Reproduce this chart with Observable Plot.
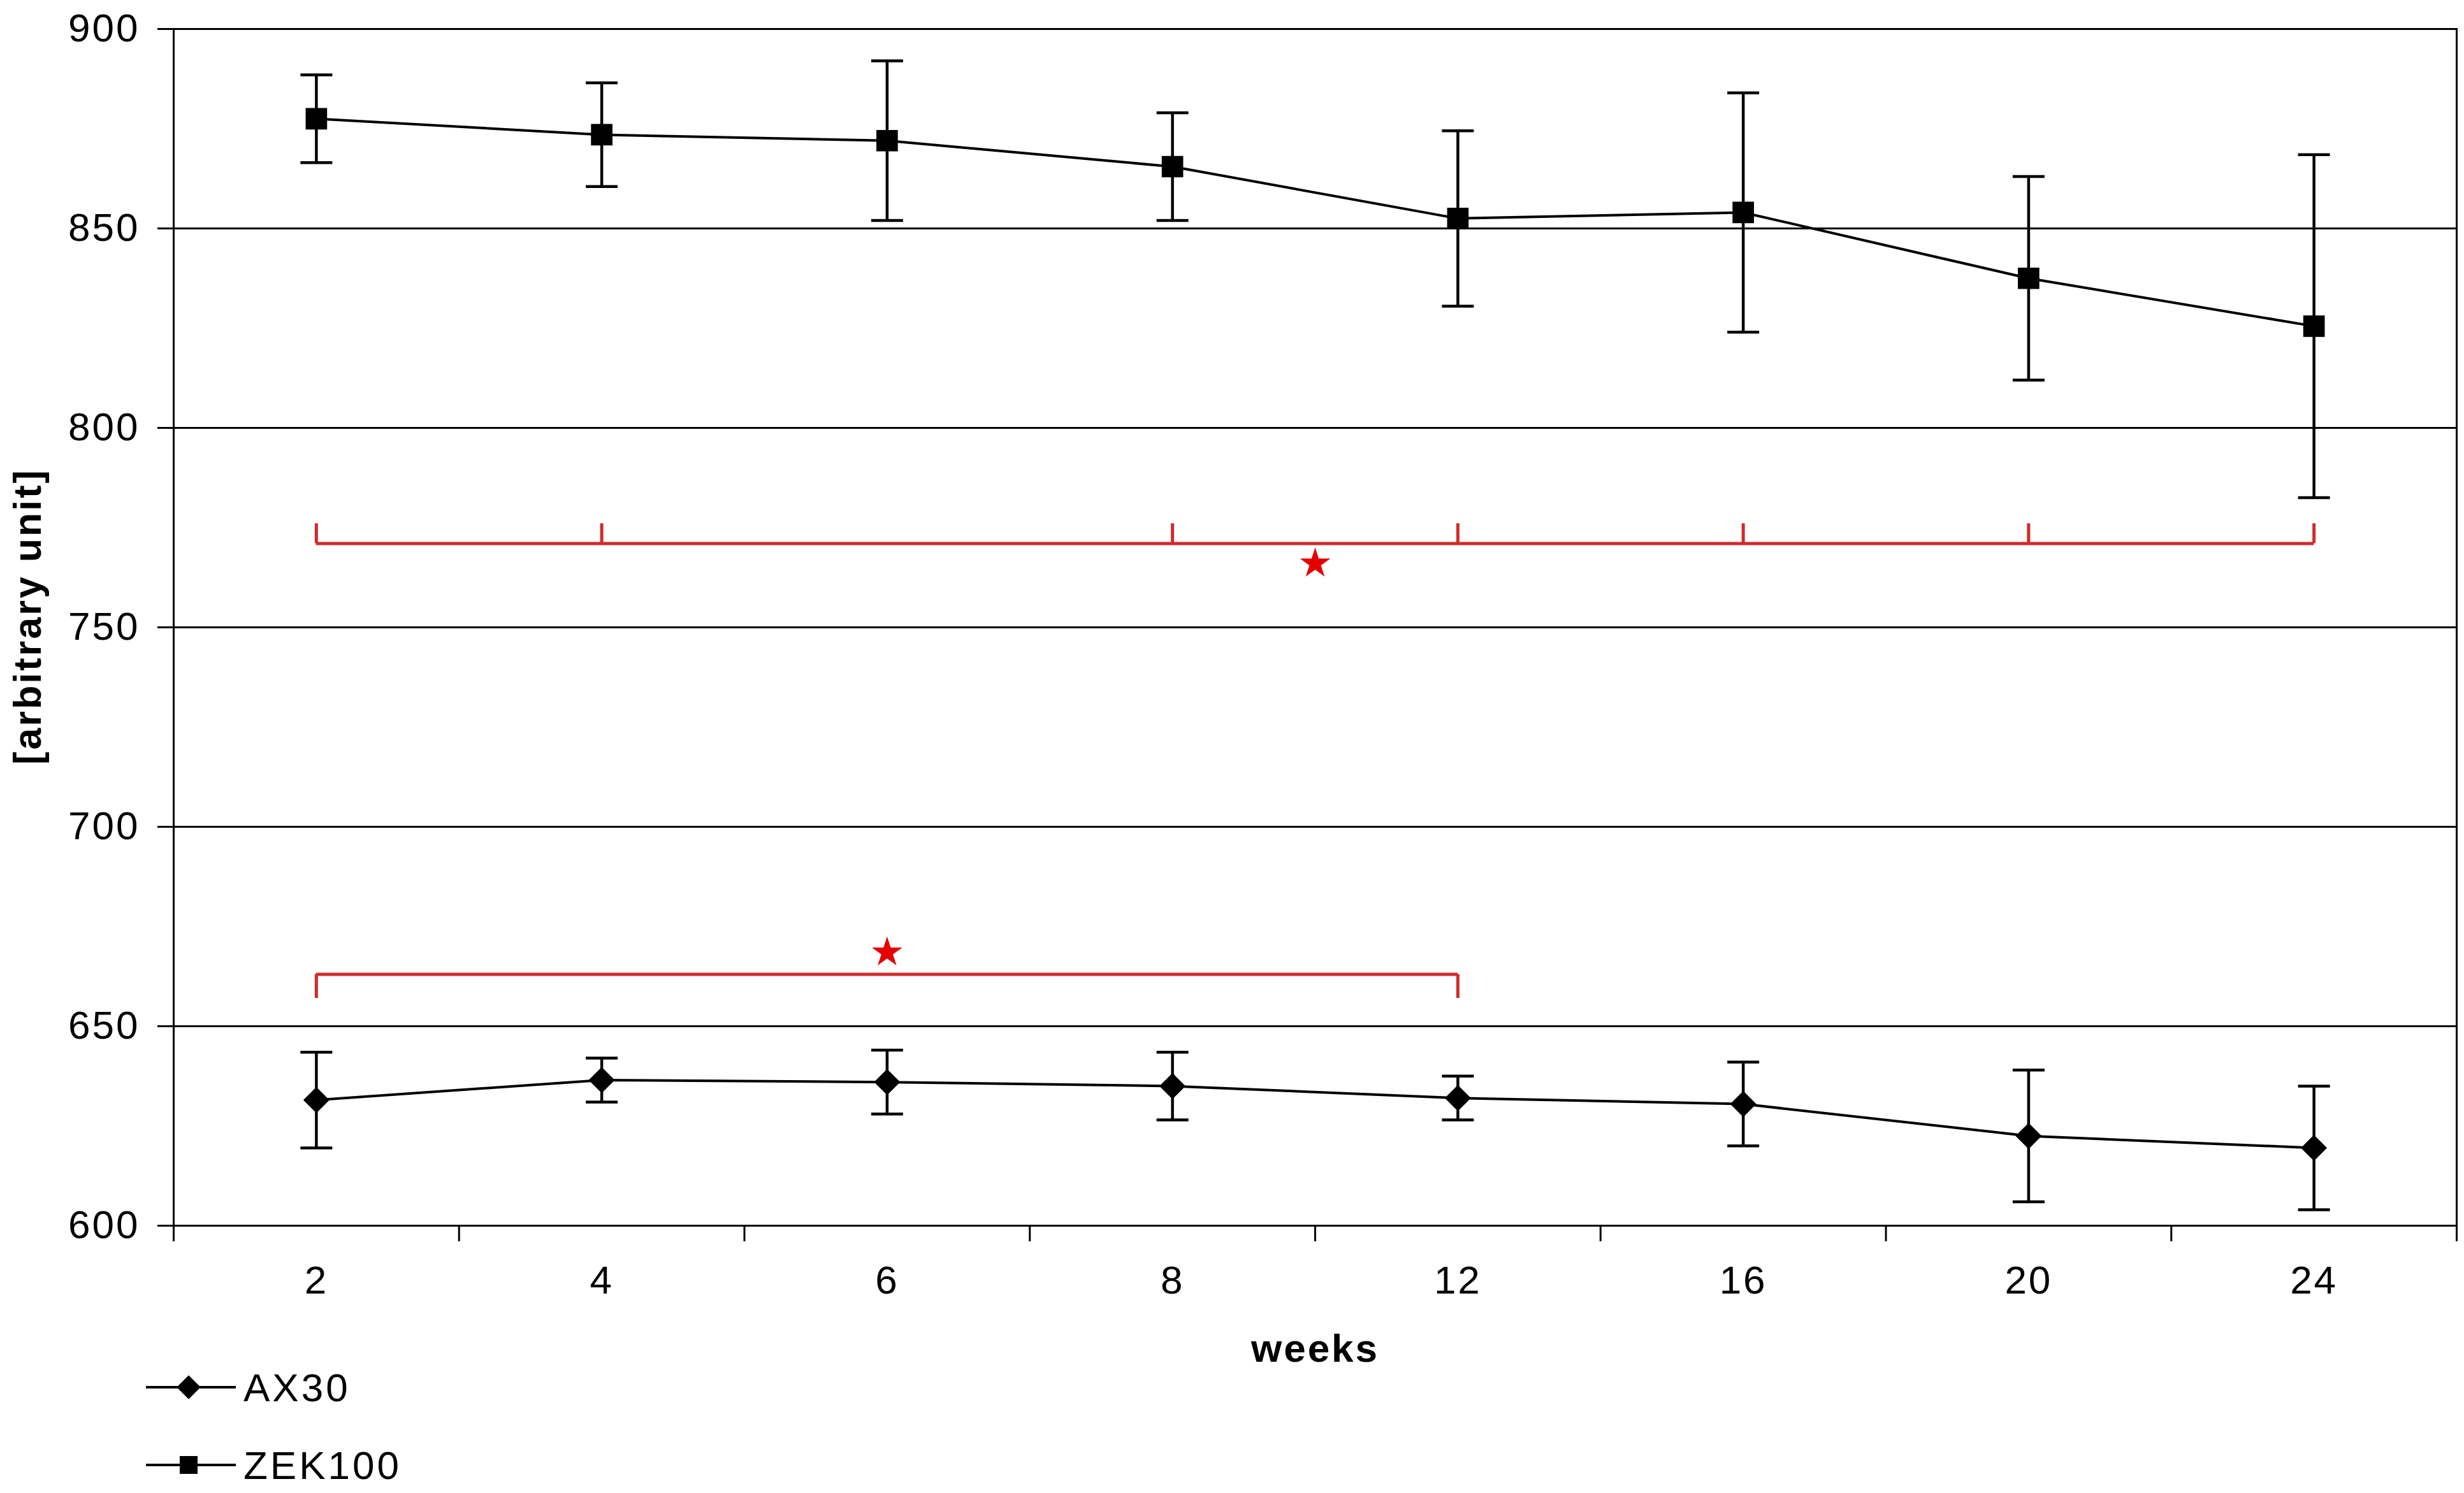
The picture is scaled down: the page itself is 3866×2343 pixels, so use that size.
<!DOCTYPE html>
<html>
<head>
<meta charset="utf-8">
<script src="https://cdn.jsdelivr.net/npm/d3@7"></script>
<script src="https://cdn.jsdelivr.net/npm/@observablehq/plot@0.6"></script>
<style>
  html, body { margin: 0; padding: 0; background: #fff; }
  body { width: 3866px; height: 2343px; overflow: hidden; font-family: "Liberation Sans", Arial, sans-serif; }
  #chart svg text { letter-spacing: 3px; }
  #legend { padding-left: 229px; }
  .item { display: flex; align-items: center; height: 54px; font-size: 62px; letter-spacing: 4px; color: #000; }
  .item + .item { margin-top: 68px; }
  .item svg { margin-right: 12px; }
</style>
</head>
<body>
<div id="chart"></div>
<div id="legend"></div>
<script>
// ---- data ----
const weeks = [2, 4, 6, 8, 12, 16, 20, 24];
const zekMean = [877.5, 873.5, 872, 865.5, 852.5, 854, 837.5, 825.5];
const zekErr  = [11, 13, 20, 13.5, 22, 30, 25.5, 43];
const axMean  = [631.5, 636.5, 636, 635, 632, 630.5, 622.5, 619.5];
const axErr   = [12, 5.5, 8, 8.5, 5.5, 10.5, 16.5, 15.5];
const yTicks = [600, 650, 700, 750, 800, 850, 900];
const seriesNames = ["AX30", "ZEK100"];

// significance brackets (weeks joined, bracket level, tick end level, star)
const upperBracketWeeks = [2, 4, 8, 12, 16, 20, 24];
const upperBracketLevel = 771;
const upperBracketTickEnd = 776;
const upperStarBetween = [8, 12];
const upperStarLevel = 766;
const lowerBracketWeeks = [2, 12];
const lowerBracketLevel = 663;
const lowerBracketTickEnd = 657;
const lowerStarWeek = 6;
const lowerStarLevel = 668.5;

// ---- build tables ----
const idx = w => weeks.indexOf(w);
const zek = weeks.map((w, i) => ({i, mean: zekMean[i], err: zekErr[i]}));
const ax  = weeks.map((w, i) => ({i, mean: axMean[i], err: axErr[i]}));
const boundaries = d3.range(weeks.length + 1).map(k => k - 0.5);

const RED = "#d22a2a";
const STAR = "#e50000";

const capSymbol = {draw(ctx) { ctx.moveTo(-25, 0); ctx.lineTo(25, 0); }};

function errMarks(data) {
  return [
    Plot.ruleX(data, {x: "i", y1: d => d.mean - d.err, y2: d => d.mean + d.err, stroke: "black", strokeWidth: 4.5}),
    Plot.dot(data, {x: "i", y: d => d.mean - d.err, symbol: capSymbol, r: 10, fill: "none", stroke: "black", strokeWidth: 4.5}),
    Plot.dot(data, {x: "i", y: d => d.mean + d.err, symbol: capSymbol, r: 10, fill: "none", stroke: "black", strokeWidth: 4.5})
  ];
}

const chart = Plot.plot({
  width: 3866,
  height: 2150,
  marginLeft: 272,
  marginRight: 12,
  marginTop: 45,
  marginBottom: 227,
  x: {type: "linear", domain: [-0.5, weeks.length - 0.5]},
  y: {domain: [600, 900]},
  style: {fontFamily: "'Liberation Sans', Arial, sans-serif", fontSize: "62px", color: "black", background: "white"},
  marks: [
    Plot.gridY(yTicks, {stroke: "black", strokeOpacity: 1, strokeWidth: 3}),
    Plot.frame({stroke: "black", strokeWidth: 3}),
    Plot.axisY(yTicks, {tickSize: 25, tickPadding: 28, strokeWidth: 3, label: null, fontSize: 62}),
    Plot.axisX(boundaries, {tickSize: 25, tickFormat: () => "", strokeWidth: 3, label: null}),
    Plot.axisX(d3.range(weeks.length), {tickSize: 0, tickPadding: 62, tickFormat: i => String(weeks[i]), label: null, fontSize: 62}),
    // brackets
    Plot.ruleY([upperBracketLevel], {x1: idx(upperBracketWeeks[0]), x2: idx(upperBracketWeeks[upperBracketWeeks.length - 1]), stroke: RED, strokeWidth: 5}),
    Plot.ruleX(upperBracketWeeks, {x: idx, y1: upperBracketLevel, y2: upperBracketTickEnd, stroke: RED, strokeWidth: 5}),
    Plot.dot([upperStarLevel], {x: () => d3.mean(upperStarBetween, idx), y: d => d, symbol: "star", r: 15, fill: STAR, stroke: "none"}),
    Plot.ruleY([lowerBracketLevel], {x1: idx(lowerBracketWeeks[0]), x2: idx(lowerBracketWeeks[1]), stroke: RED, strokeWidth: 5}),
    Plot.ruleX(lowerBracketWeeks, {x: idx, y1: lowerBracketLevel, y2: lowerBracketTickEnd, stroke: RED, strokeWidth: 5}),
    Plot.dot([lowerStarLevel], {x: () => idx(lowerStarWeek), y: d => d, symbol: "star", r: 15, fill: STAR, stroke: "none"}),
    // series
    ...errMarks(zek),
    ...errMarks(ax),
    Plot.line(zek, {x: "i", y: "mean", stroke: "black", strokeWidth: 4}),
    Plot.line(ax, {x: "i", y: "mean", stroke: "black", strokeWidth: 4}),
    Plot.dot(zek, {x: "i", y: "mean", symbol: "square", r: 19, fill: "black", stroke: "none"}),
    Plot.dot(ax, {x: "i", y: "mean", symbol: "diamond2", r: 18, fill: "black", stroke: "black", strokeWidth: 1}),
    // axis titles
    Plot.text(["[arbitrary unit]"], {frameAnchor: "left", textAnchor: "middle", lineAnchor: "middle", dx: -228, dy: -17, rotate: -90, fontWeight: "bold", fontSize: 61}),
    Plot.text(["weeks"], {frameAnchor: "bottom", textAnchor: "middle", lineAnchor: "middle", dy: 194, fontWeight: "bold", fontSize: 62})
  ]
});
document.getElementById("chart").appendChild(chart);

// ---- legend ----
const legend = document.getElementById("legend");
const legendSymbols = {AX30: "diamond", ZEK100: "square"};
seriesNames.forEach(name => {
  const item = document.createElement("div");
  item.className = "item";
  const s = d3.create("svg").attr("width", 141).attr("height", 54);
  s.append("line").attr("x1", 0).attr("x2", 141).attr("y1", 27).attr("y2", 27).attr("stroke", "black").attr("stroke-width", 4);
  if (legendSymbols[name] === "diamond") {
    s.append("path").attr("transform", "translate(67,27)").attr("d", d3.symbol(d3.symbolDiamond2, 900)()).attr("fill", "black");
  } else {
    s.append("rect").attr("x", 67 - 14).attr("y", 27 - 14).attr("width", 28).attr("height", 28).attr("fill", "black");
  }
  item.appendChild(s.node());
  const t = document.createElement("span");
  t.textContent = name;
  item.appendChild(t);
  legend.appendChild(item);
});
</script>
</body>
</html>
